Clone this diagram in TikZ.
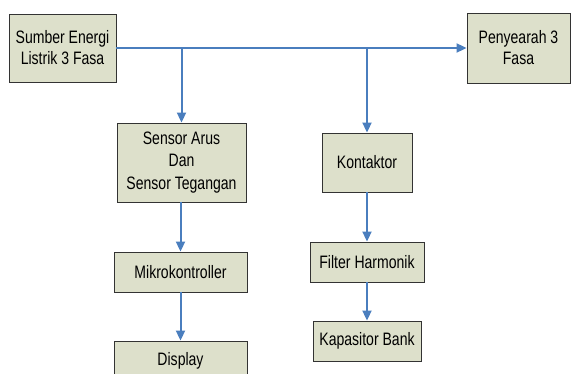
\documentclass[tikz,border=0pt]{standalone}
\usepackage{fontspec}
\setmainfont[FakeStretch=0.78]{Liberation Sans}
\usetikzlibrary{arrows.meta}
\definecolor{boxfill}{HTML}{DDE0CB}
\definecolor{boxline}{HTML}{333333}
\definecolor{arrowblue}{HTML}{4A7EBE}
\tikzset{
  blk/.style={draw=boxline, line width=0.9pt, fill=boxfill, align=center, inner sep=1pt,
    font=\fontsize{18pt}{21pt}\selectfont},
  conn/.style={draw=arrowblue, line width=2pt},
  arr/.style={conn, -{Triangle[width=9pt,length=10pt]}}
}
\begin{document}
\begin{tikzpicture}[x=1pt,y=-1pt]
\useasboundingbox (0,0) rectangle (571,374);
\clip (0,0) rectangle (571,374);
\node[blk, minimum width=107pt, minimum height=68pt] (sumber) at (62.5,48) {Sumber Energi\\Listrik 3 Fasa};
\node[blk, minimum width=103pt, minimum height=70pt] (peny) at (518.5,48) {Penyearah 3\\Fasa};
\node[blk, minimum width=129pt, minimum height=79pt, font=\fontsize{18pt}{22.5pt}\selectfont] (sensor) at (181.5,162.5) {Sensor Arus\\Dan\\Sensor Tegangan};
\node[blk, minimum width=90pt, minimum height=59pt] (kontak) at (367,162.5) {Kontaktor};
\node[blk, minimum width=114pt, minimum height=40pt] (filter) at (367,262) {Filter Harmonik};
\node[blk, minimum width=108pt, minimum height=40pt] (kapas) at (367,341) {Kapasitor Bank};
\node[blk, minimum width=133pt, minimum height=40pt] (mikro) at (180.5,272) {Mikrokontroller};
\node[blk, minimum width=133pt, minimum height=40pt] (display) at (180.5,361) {Display};
\coordinate (j1) at (181.5,48);
\coordinate (j2) at (367,48);
\draw[arr] (sumber.east) -- (peny.west);
\draw[arr] (j1) -- (sensor.north);
\draw[arr] (j2) -- (kontak.north);
\draw[arr] (sensor.south -| mikro.north) -- (mikro.north);
\draw[arr] (mikro.south) -- (display.north);
\draw[arr] (kontak.south) -- (filter.north);
\draw[arr] (filter.south) -- (kapas.north);
\end{tikzpicture}
\end{document}
